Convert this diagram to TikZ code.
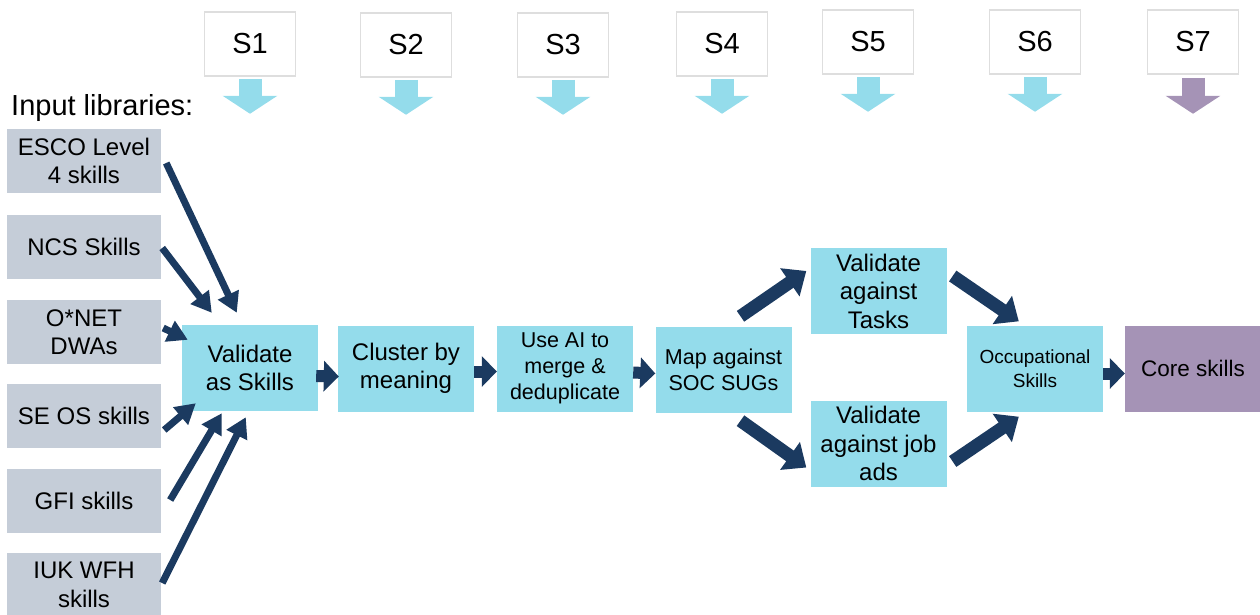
\documentclass[tikz,border=0pt]{standalone}
\usepackage{fontspec}
\setmainfont{Liberation Sans}
\usetikzlibrary{arrows.meta,calc}
\definecolor{boxblue}{HTML}{94DCEB}
\definecolor{boxgray}{HTML}{C5CDD8}
\definecolor{boxpurple}{HTML}{A593B6}
\definecolor{navy}{HTML}{1B3A60}
\definecolor{sborder}{HTML}{DEDEDE}
\begin{document}
\begin{tikzpicture}[x=1pt,y=-1pt,
  every node/.style={inner sep=0pt, align=center, text=black},
  sbox/.style={draw=sborder, line width=1.5pt, fill=white, minimum width=91pt, minimum height=64pt, font=\fontsize{29}{32}\selectfont},
  inbox/.style={fill=boxgray, minimum width=154pt, minimum height=64pt, font=\fontsize{24}{28.5}\selectfont},
  bluebox/.style={fill=boxblue, minimum width=136pt, minimum height=86pt, font=\fontsize{24}{28.5}\selectfont},
  smallbox/.style={bluebox, font=\fontsize{21.5}{26}\selectfont},
  corebox/.style={fill=boxpurple, minimum width=136pt, minimum height=86pt, font=\fontsize{22.5}{28}\selectfont},
  sarrow/.style={draw=boxblue, line width=23pt, -{Triangle[width=54pt,length=18pt]}},
  inarr/.style={draw=navy, line width=7pt, -{Triangle[width=22pt,length=20pt]}},
  harr/.style={draw=navy, line width=12pt, -{Triangle[width=30pt,length=15pt]}},
  bigarr/.style={draw=navy, line width=13pt, -{Triangle[width=33pt,length=20pt]}}
]
\useasboundingbox (0,0) rectangle (1260,614);

% stage headers
\node[sbox] (s1) at (250,44) {S1};
\node[sbox] (s2) at (406,45) {S2};
\node[sbox] (s3) at (563,45) {S3};
\node[sbox] (s4) at (722,44) {S4};
\node[sbox] (s5) at (868,42) {S5};
\node[sbox] (s6) at (1035,42) {S6};
\node[sbox] (s7) at (1193,42) {S7};
\foreach \s in {s1,s2,s3,s4,s5,s6}{
  \draw[sarrow] ($(\s.south)+(0,2)$) -- ($(\s.south)+(0,37)$);
}
\draw[sarrow, draw=boxpurple] ($(s7.south)+(0,3)$) -- ($(s7.south)+(0,39)$);

% input libraries
\node[anchor=base west, font=\fontsize{29}{32}\selectfont] (lib) at (11,115) {Input libraries:};
\node[inbox] (esco) at (84,161) {ESCO Level\\4 skills};
\node[inbox] (ncs) at (84,247) {NCS Skills};
\node[inbox] (onet) at (84,332) {O*NET\\DWAs};
\node[inbox] (seos) at (84,416) {SE OS skills};
\node[inbox] (gfi) at (84,501) {GFI skills};
\node[inbox] (iuk) at (84,585) {IUK WFH\\skills};

% process boxes
\node[bluebox] (val) at (250,368) {Validate\\as Skills};
\node[bluebox] (clus) at (406,368.5) {Cluster by\\meaning};
\node[smallbox] (ai) at (565,368.5) {Use AI to\\merge \&\\deduplicate};
\node[smallbox] (map) at (723.5,369.5) {Map against\\SOC SUGs};
\node[bluebox] (tasks) at (878.5,291) {Validate\\against\\Tasks};
\node[bluebox] (jobs) at (878.5,443.5) {Validate\\against job\\ads};
\node[bluebox, font=\fontsize{19}{23.5}\selectfont] (occ) at (1035,368.5) {Occupational\\Skills};
\node[corebox] (core) at (1193,368.5) {Core skills};

% input arrows
\draw[inarr] ($(esco.east)+(5,2)$) -- ($(val.north west)+(55,-12)$);
\draw[inarr] ($(ncs.east)+(1,1)$) -- ($(val.north west)+(30,-12)$);
\draw[inarr] ($(onet.east)+(2,-4)$) -- ($(val.north west)+(6,15)$);
\draw[inarr] ($(seos.east)+(3,14)$) -- ($(val.south west)+(14,-8)$);
\draw[inarr] ($(gfi.east)+(9,-1)$) -- ($(val.south west)+(40,2)$);
\draw[inarr] ($(iuk.east)+(1,-2)$) -- ($(val.south west)+(64,6)$);

% horizontal arrows
\draw[harr] ($(val.east)+(-2,8)$) -- ($(clus.west)+(1,8)$);
\draw[harr] ($(clus.east)+(0,3)$) -- ($(ai.west)+(0,3)$);
\draw[harr] ($(ai.east)+(0,4)$) -- ($(map.west)+(0,4)$);
\draw[harr] ($(occ.east)+(0,5)$) -- ($(core.west)+(0,5)$);

% branch arrows
\draw[bigarr] ($(map.north)+(17,-10)$) -- ($(tasks.west)+(-4,-20)$);
\draw[bigarr] ($(map.south)+(17,8)$) -- ($(jobs.west)+(-4,24)$);
\draw[bigarr] ($(tasks.east)+(6,-15)$) -- ($(occ.north west)+(52,-4)$);
\draw[bigarr] ($(jobs.east)+(6,18)$) -- ($(occ.south west)+(52,5)$);
\end{tikzpicture}
\end{document}
